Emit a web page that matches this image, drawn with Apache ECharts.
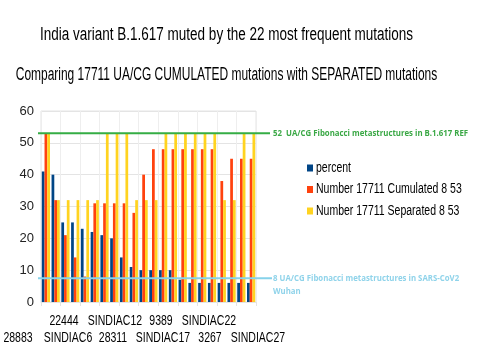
<!DOCTYPE html>
<html>
<head>
<meta charset="utf-8">
<script src="https://cdn.jsdelivr.net/npm/echarts@6/dist/echarts.min.js"></script>
<style>
html,body{margin:0;padding:0;background:#fff;}
#chart{width:478px;height:348px;}
</style>
</head>
<body>
<div id="chart"></div>
<script>
// ---- data ----
const categories = ['1','2','3','4','5','6','7','8','9','10','11','12','13','14','15','16','17','18','19','20','21','22'];
const percent    = [41,40,25,25,23,22,21,20,14,11,10,10,10,10,7,6,6,6,6,6,6,6];
const cumulated  = [53,32,21,14,8,31,31,31,31,28,40,48,48,48,48,48,48,48,38,45,45,45];
const separated  = [53,32,32,32,32,32,53,53,53,32,32,32,53,53,53,53,53,53,32,32,53,53];
const seriesNames = ['percent','Number 17711 Cumulated 8 53','Number 17711 Separated 8 53'];
const titleText = 'India variant B.1.617 muted by the 22 most frequent mutations';
const subtitleText = 'Comparing 17711 UA/CG CUMULATED mutations with SEPARATED mutations';
const tickLabelsTop = ['22444','SINDIAC12','9389','SINDIAC22'];
const tickLabelsBottom = ['28883','SINDIAC6','28311','SINDIAC17','3267','SINDIAC27'];
const refHigh = 53, refHighText = '52  UA/CG Fibonacci metastructures in B.1.617 REF';
const refLow = 7.5, refLowText = '8 UA/CG Fibonacci metastructures in SARS-CoV2\nWuhan';

// ---- layout ----
const topLabelX = [64,115,161,209];
const bottomLabelX = [18,68,113,163,210,258];
const legendY = [168,189.5,211];
const FONT = '"Liberation Sans", Arial, sans-serif';

const chart = echarts.init(document.getElementById('chart'));
const colors = ['#004586','#ff420e','#ffd320'];
const option = {
  animation:false,
  color: colors,
  grid:{left:41, right:222, top:111, bottom:46, show:true, borderColor:'#e4e4e4', borderWidth:1},
  xAxis:{type:'category', data:categories,
    axisLine:{lineStyle:{color:'#e4e4e4'}},
    axisTick:{show:true, length:4, lineStyle:{color:'#e4e4e4'}},
    axisLabel:{show:false},
    splitLine:{show:true, lineStyle:{color:'#eeeeee'}}},
  yAxis:{type:'value', min:0, max:60, interval:10,
    axisLine:{show:false}, axisTick:{show:false},
    axisLabel:{fontFamily:FONT, fontSize:13, color:'#222', margin:7},
    splitLine:{lineStyle:{color:'#e4e4e4'}}},
  series:[
    {name:seriesNames[0], type:'bar', data:percent, barGap:'0%', barCategoryGap:'16%'},
    {name:seriesNames[1], type:'bar', data:cumulated, barGap:'0%', barCategoryGap:'16%'},
    {name:seriesNames[2], type:'bar', data:separated, barGap:'0%', barCategoryGap:'16%'}
  ]
};
chart.setOption(option);

const yHigh = chart.convertToPixel({yAxisIndex:0}, refHigh);
const yLow = chart.convertToPixel({yAxisIndex:0}, refLow);
const annFont = 'bold 8.5px "Open Sans", "Noto Sans", sans-serif';
const gfx = [
  {type:'text', x:226.5, y:35, scaleX:0.75, style:{text:titleText, fill:'#000', font:'18px '+FONT, align:'center', verticalAlign:'middle'}},
  {type:'text', x:226.5, y:75, scaleX:0.665, style:{text:subtitleText, fill:'#000', font:'18px '+FONT, align:'center', verticalAlign:'middle'}},
  {type:'line', shape:{x1:38, y1:yHigh, x2:270, y2:yHigh}, style:{stroke:'#35ad45', lineWidth:2}, z:10},
  {type:'text', x:273, y:yHigh, scaleX:0.92, style:{text:refHighText, fill:'#3aa845', font:annFont, verticalAlign:'middle'}, z:10},
  {type:'line', shape:{x1:38, y1:yLow, x2:272, y2:yLow}, style:{stroke:'#86d2ea', lineWidth:2}, z:10},
  {type:'text', x:273, y:yLow-6, scaleX:0.92, style:{text:refLowText, fill:'#8fd3ea', font:annFont, verticalAlign:'top', lineHeight:13}, z:10}
];
seriesNames.forEach((n,i)=>{
  gfx.push({type:'rect', shape:{x:307, y:legendY[i]-3.5, width:6, height:7}, style:{fill:colors[i]}});
  gfx.push({type:'text', x:316, y:legendY[i], scaleX:0.75, style:{text:n, fill:'#000', font:'14px '+FONT, verticalAlign:'middle'}});
});
tickLabelsTop.forEach((t,i)=>gfx.push({type:'text', x:topLabelX[i], y:321, scaleX:0.7, style:{text:t, fill:'#000', font:'15px '+FONT, align:'center', verticalAlign:'middle'}}));
tickLabelsBottom.forEach((t,i)=>gfx.push({type:'text', x:bottomLabelX[i], y:338, scaleX:0.7, style:{text:t, fill:'#000', font:'15px '+FONT, align:'center', verticalAlign:'middle'}}));
chart.setOption({graphic:gfx});
</script>
</body>
</html>
